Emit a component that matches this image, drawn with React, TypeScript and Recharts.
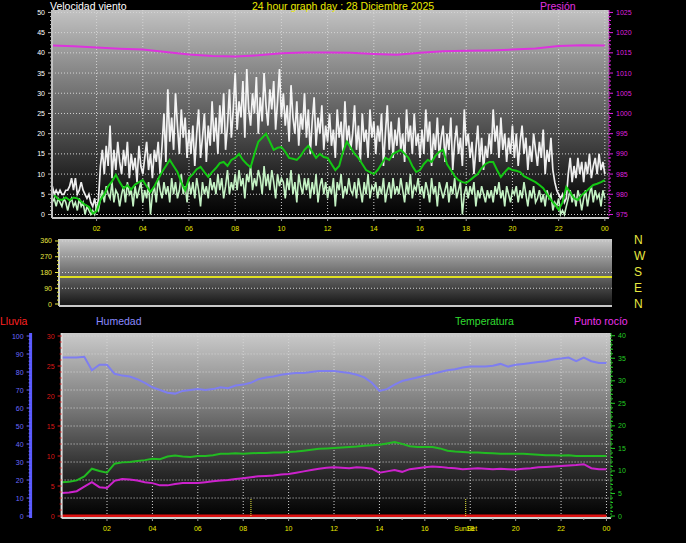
import React from "react";
import { LineChart, Line, XAxis, YAxis, CartesianGrid, ReferenceLine } from "recharts";

const FONT = '"Liberation Sans", Arial, sans-serif';

// wind gust (white), 5 min steps from 00:05
const gust = [
  7, 5, 6, 5, 6, 5, 5, 6, 6, 7, 9, 6,
  9, 5, 6, 8, 6, 5, 4, 5, 3, 2, 4, 1,
  4, 12, 16, 10, 17, 12, 22, 9, 16, 11, 18, 13,
  10, 16, 12, 18, 9, 15, 11, 14, 8, 17, 12, 10,
  14, 18, 11, 15, 9, 16, 13, 18, 10, 17, 25, 13,
  31, 18, 24, 16, 30, 22, 15, 26, 19, 24, 14, 21,
  15, 22, 12, 20, 26, 14, 19, 25, 13, 22, 17, 28,
  18, 24, 15, 27, 20, 30, 16, 22, 31, 19, 26, 35,
  21, 28, 24, 33, 19, 36, 26, 22, 30, 25, 34, 20,
  29, 23, 35, 27, 22, 31, 26, 33, 21, 28, 36, 24,
  30, 22, 27, 18, 32, 24, 20, 28, 17, 25, 21, 30,
  19, 26, 15, 23, 29, 17, 24, 20, 27, 16, 22, 18,
  25, 17, 21, 14, 26, 19, 23, 15, 28, 18, 22, 16,
  20, 27, 16, 22, 13, 25, 18, 21, 14, 26, 19, 23,
  15, 22, 18, 25, 12, 20, 27, 16, 23, 14, 21, 17,
  24, 16, 20, 13, 26, 18, 22, 15, 25, 17, 20, 14,
  21, 15, 26, 18, 23, 12, 20, 16, 24, 14, 19, 22,
  13, 20, 16, 24, 11, 18, 22, 15, 19, 12, 26, 17,
  20, 14, 18, 10, 16, 22, 13, 19, 11, 17, 14, 20,
  15, 26, 18, 22, 14, 24, 16, 20, 13, 19, 15, 22,
  14, 20, 12, 18, 22, 15, 19, 11, 17, 13, 20, 16,
  12, 18, 14, 21, 10, 16, 13, 19, 11, 8, 6, 5,
  4, 5, 3, 4, 10, 14, 8, 12, 9, 14, 10, 13,
  8, 13, 10, 15, 9, 12, 14, 10, 15, 11, 13, 10,
];

// wind speed (pale green), same steps
const wind = [
  3, 4, 2, 4, 3, 2, 4, 3, 1, 3, 4, 2,
  3, 1, 4, 2, 3, 0, 2, 1, 0, 1, 0, 2,
  1, 4, 6, 3, 7, 5, 4, 8, 3, 6, 5, 2,
  5, 7, 3, 8, 5, 6, 2, 7, 4, 6, 8, 3,
  6, 4, 8, 0, 5, 7, 3, 9, 6, 4, 8, 5,
  7, 3, 9, 5, 8, 4, 6, 10, 5, 7, 3, 8,
  5, 8, 4, 9, 6, 2, 8, 5, 7, 4, 9, 6,
  8, 5, 10, 6, 9, 4, 7, 11, 5, 8, 6, 10,
  6, 11, 7, 9, 4, 10, 8, 12, 6, 9, 7, 11,
  9, 5, 12, 7, 10, 6, 11, 8, 4, 10, 7, 9,
  8, 4, 9, 6, 11, 5, 8, 3, 10, 7, 5, 9,
  6, 9, 4, 8, 5, 10, 3, 7, 9, 5, 8, 4,
  7, 5, 9, 2, 8, 6, 10, 4, 7, 5, 9, 6,
  5, 8, 4, 9, 6, 3, 8, 5, 10, 4, 7, 6,
  8, 4, 7, 5, 9, 3, 6, 8, 4, 9, 5, 7,
  5, 9, 6, 3, 8, 5, 10, 4, 7, 6, 9, 5,
  7, 4, 8, 6, 3, 9, 5, 7, 2, 8, 6, 4,
  6, 8, 3, 7, 5, 9, 4, 6, 8, 0, 5, 7,
  4, 7, 5, 8, 2, 6, 4, 7, 5, 3, 6, 4,
  6, 3, 7, 5, 8, 4, 6, 2, 7, 5, 3, 6,
  5, 7, 3, 6, 4, 8, 5, 2, 6, 4, 7, 3,
  4, 6, 3, 5, 2, 6, 4, 5, 1, 3, 2, 4,
  0, 1, 0, 2, 4, 6, 3, 5, 2, 6, 4, 1,
  4, 6, 2, 5, 7, 3, 6, 4, 5, 2, 6, 4,
];

// 10 min average wind (dark green), from 00:10
const windAvg = [
  4.8, 3.8, 3.6, 4.2, 3.5, 4.2,
  4, 3.2, 2.4, 1.9, 0.2, 0.8,
  3.6, 5, 7, 8.2, 9.8, 8,
  6.5, 7.2, 6.2, 7.4, 8, 8.5,
  7, 5.6, 7, 8.8, 10.5, 12,
  13.5, 12, 10.5, 8, 6, 9,
  10, 11.2, 11.8, 10.5, 9.3, 10.5,
  11.5, 12.7, 13, 12, 13.5, 14,
  15, 13.5, 12.5, 11.7, 15, 18,
  19, 20, 18, 16, 16.5, 16.7,
  15.5, 14, 13.8, 13.5, 14.5, 16,
  17, 15.5, 14, 15, 14.2, 14,
  12.5, 11, 12, 15.5, 18, 16.5,
  15, 14, 12.5, 11, 10.5, 10,
  11, 12.5, 14, 13.5, 15, 15.5,
  16, 15, 14, 12, 10.5, 11,
  12.5, 13.5, 13, 14.5, 15.5, 16,
  12.5, 11, 9.5, 8.5, 8, 7.8,
  8.5, 9.3, 10, 11.5, 12.5, 13,
  13, 11, 9.3, 10.5, 11.5, 11,
  10.8, 10.5, 9.5, 9, 8.5, 8,
  7.3, 6.5, 5, 3.6, 2.5, 1.2,
  3, 6.8, 5.5, 4, 3.6, 4.8,
  5.6, 6.5, 7.3, 7.6, 8, 8.5,
];

// pressure hPa, hourly 00..24
const pressure = [
  1016.8, 1016.6, 1016.3, 1016.0, 1015.8, 1015.2, 1014.6, 1014.2, 1014.1, 1014.4,
  1014.9, 1015.1, 1015.1, 1015.0, 1014.7, 1014.5, 1015.0, 1015.4, 1015.5, 1015.6,
  1015.8, 1016.1, 1016.7, 1016.9, 1016.8,
];

// wind direction, hourly
const windDir = [
  155, 155, 155, 155, 155, 155, 155, 155, 155, 155, 155, 155, 155,
  155, 155, 155, 155, 155, 155, 155, 155, 155, 155, 155, 155,
];

// 20 min steps from 00:00
const humidity = [
  88, 88, 88, 88.5, 81, 84, 84, 79, 78, 77.5, 76, 74,
  71.5, 70, 68.5, 68, 69.5, 70, 70.5, 70, 70.5, 71.5, 71, 72.5,
  73, 74, 76, 77, 77.5, 78.5, 79, 79.5, 79.5, 80, 80.5, 80.5,
  80.5, 80, 79.5, 78.5, 77, 74, 69.5, 70.5, 73, 75, 76, 77,
  78, 79, 80, 81, 81.5, 82.5, 83, 83, 83, 83.5, 84.5, 83,
  84, 84.5, 85, 85.5, 86, 87, 87.5, 88, 86, 88, 86, 85, 85,
];
const temperature = [
  7.5, 7.6, 7.9, 8.8, 10.5, 10, 9.6, 11.6, 11.9, 12, 12.2, 12.4,
  12.7, 12.6, 13.2, 13.4, 13.2, 13.1, 13.3, 13.3, 13.5, 13.8, 13.8, 13.9,
  13.8, 13.9, 14.0, 14.0, 14.1, 14.1, 14.2, 14.3, 14.5, 14.7, 14.9, 15,
  15.1, 15.2, 15.3, 15.4, 15.6, 15.7, 15.8, 16.1, 16.4, 16.0, 15.5, 15.3,
  15.3, 15.3, 15.0, 14.5, 14.3, 14.2, 14.1, 14.1, 14.0, 13.9, 13.8, 13.8,
  13.8, 13.8, 13.7, 13.6, 13.5, 13.5, 13.4, 13.5, 13.3, 13.3, 13.3, 13.3, 13.3,
];
const dewPoint = [
  5.1, 5.2, 5.5, 6.5, 7.5, 6.4, 6.2, 7.8, 8.2, 8.1, 7.9, 7.5,
  7.3, 6.8, 6.8, 7.1, 7.3, 7.3, 7.3, 7.5, 7.7, 7.9, 8.0, 8.2,
  8.4, 8.6, 8.8, 8.9, 9.0, 9.2, 9.3, 9.6, 9.9, 10.2, 10.5, 10.7,
  10.8, 10.7, 10.6, 10.8, 10.7, 10.5, 9.6, 9.9, 10.2, 9.8, 10.4, 10.6,
  10.8, 11.0, 10.9, 10.7, 10.6, 10.4, 10.5, 10.6, 10.5, 10.4, 10.5, 10.4,
  10.3, 10.5, 10.6, 10.8, 10.9, 11.0, 11.1, 11.2, 11.3, 11.5, 10.6, 10.4, 10.4,
];
// rain mm, hourly
const rain = [0, 0, 0, 0, 0, 0, 0, 0, 0, 0, 0, 0, 0, 0, 0, 0, 0, 0, 0, 0, 0, 0, 0, 0, 0];

const sunrise = 8.34;
const sunset = 17.8;

const hourTicks = [1, 2, 3, 4, 5, 6, 7, 8, 9, 10, 11, 12, 13, 14, 15, 16, 17, 18, 19, 20, 21, 22, 23, 24];
const hourGrid = [2, 4, 6, 8, 10, 12, 14, 16, 18, 20, 22, 24];
const spdTicks = Array.from({ length: 51 }, (_, i) => i);
const spdGrid = [0, 5, 10, 15, 20, 25, 30, 35, 40, 45, 50];
const hpaTicks = Array.from({ length: 51 }, (_, i) => 975 + i);
const dirTicks = [0, 22.5, 45, 67.5, 90, 112.5, 135, 157.5, 180, 202.5, 225, 247.5, 270, 292.5, 315, 337.5, 360];
const dirGrid = [90, 180, 270, 360];
const humTicks = Array.from({ length: 51 }, (_, i) => i * 2);
const humGrid = [10, 20, 30, 40, 50, 60, 70, 80, 90, 100];
const rainTicks = Array.from({ length: 31 }, (_, i) => i);
const tempTicks = Array.from({ length: 41 }, (_, i) => i);

const gustRows = gust.map((g, i) => ({ t: (i + 1) / 12, gust: g, wind: wind[i] }));
const avgRows = windAvg.map((v, i) => ({ t: (i + 1) / 6, avg: v }));
const hpaRows = pressure.map((v, i) => ({ t: i, hpa: v }));
const dirRows = windDir.map((v, i) => ({ t: i, dir: v }));
const bottomRows = humidity.map((h, i) => ({ t: i / 3, hum: h, temp: temperature[i], dew: dewPoint[i] }));
const rainRows = rain.map((v, i) => ({ t: i, rain: v }));

function yTick(color: string, side: "left" | "right", step: number, tickColor?: string) {
  return (p: any) => {
    const { x, y, payload } = p;
    const v = payload.value;
    const major = Math.abs(v / step - Math.round(v / step)) < 1e-6;
    const ax = side === "left" ? x + 6 : x - 6;
    const len = major ? 4 : 2;
    const x2 = side === "left" ? ax - len : ax + len;
    return (
      <g>
        <line x1={ax} y1={y} x2={x2} y2={y} stroke={tickColor || color} strokeWidth={1} />
        {major && (
          <text
            x={side === "left" ? ax - 7 : ax + 7}
            y={y}
            dy={2.5}
            fill={color}
            fontSize={7}
            fontFamily={FONT}
            textAnchor={side === "left" ? "end" : "start"}
          >
            {v}
          </text>
        )}
      </g>
    );
  };
}

function xTick(p: any) {
  const { x, y, payload } = p;
  const v = payload.value;
  const even = v % 2 === 0;
  return (
    <g>
      <line x1={x} y1={y - 6} x2={x} y2={y - (even ? 3 : 4)} stroke="#a0a0a0" />
      {even && (
        <text x={x} y={y} dy={7} fill="#e8e800" fontSize={7} fontFamily={FONT} textAnchor="middle">
          {String(v % 24).padStart(2, "0")}
        </text>
      )}
    </g>
  );
}

const txt = (s: string, left: number, top: number, color: string, extra: React.CSSProperties = {}) => (
  <div
    key={s + top}
    style={{
      position: "absolute",
      left,
      top,
      color,
      fontFamily: FONT,
      fontSize: 10.5,
      lineHeight: "12px",
      whiteSpace: "nowrap",
      ...extra,
    }}
  >
    {s}
  </div>
);

export default function App() {
  return (
    <div style={{ position: "fixed", left: 0, top: 0, width: 686, height: 543, background: "#000", overflow: "hidden" }}>
      {/* wind + pressure */}
      <div style={{ position: "absolute", left: 0, top: 0 }}>
        <LineChart width={686} height={236} margin={{ top: 10, right: 37, bottom: 2, left: 8 }}>
          <defs>
            <linearGradient id="gTop" x1="0" y1="0" x2="0" y2="1">
              <stop offset="0" stopColor="#c2c2c2" />
              <stop offset="0.5" stopColor="#5e5e5e" />
              <stop offset="0.85" stopColor="#181818" />
              <stop offset="1" stopColor="#000000" />
            </linearGradient>
          </defs>
          <CartesianGrid
            yAxisId="spd"
            fill="url(#gTop)"
            fillOpacity={1}
            stroke="#d4d4d4"
            strokeDasharray="1 2"
            horizontalValues={spdGrid}
            verticalValues={hourGrid}
          />
          <XAxis
            type="number"
            dataKey="t"
            domain={[0.07, 24.18]}
            ticks={hourTicks}
            interval={0}
            height={16}
            tickSize={6}
            tickMargin={0}
            tickLine={false}
            axisLine={{ stroke: "#c8c8c8", strokeWidth: 2 }}
            tick={xTick}
            allowDataOverflow
          />
          <YAxis
            yAxisId="spd"
            domain={[-0.87, 50.6]}
            ticks={spdTicks}
            interval={0}
            width={44}
            tickSize={6}
            tickMargin={0}
            tickLine={false}
            axisLine={{ stroke: "#c0c0c0", strokeWidth: 2 }}
            tick={yTick("#ffffff", "left", 5, "#bbbbbb")}
            allowDataOverflow
          />
          <YAxis
            yAxisId="hpa"
            orientation="right"
            domain={[974.13, 1025.6]}
            ticks={hpaTicks}
            interval={0}
            width={40}
            tickSize={6}
            tickMargin={0}
            tickLine={false}
            axisLine={{ stroke: "#cc22cc", strokeWidth: 1, strokeDasharray: "2 1" }}
            tick={yTick("#dd22dd", "right", 5)}
            allowDataOverflow
          />
          <Line yAxisId="spd" data={gustRows} dataKey="gust" type="linear" stroke="#ffffff" strokeOpacity={0.92} strokeWidth={1.7} dot={false} isAnimationActive={false} />
          <Line yAxisId="spd" data={gustRows} dataKey="wind" type="linear" stroke="#c4f2c4" strokeWidth={1.6} dot={false} isAnimationActive={false} />
          <Line yAxisId="spd" data={avgRows} dataKey="avg" type="linear" stroke="#14c814" strokeWidth={2} dot={false} isAnimationActive={false} />
          <Line yAxisId="hpa" data={hpaRows} dataKey="hpa" type="linear" stroke="#dd33dd" strokeWidth={2} dot={false} isAnimationActive={false} />
        </LineChart>
      </div>

      {/* wind direction */}
      <div style={{ position: "absolute", left: 0, top: 236 }}>
        <LineChart width={686} height={72} margin={{ top: 3, right: 74, bottom: 0, left: 19 }}>
          <defs>
            <linearGradient id="gMid" x1="0" y1="0" x2="0" y2="1">
              <stop offset="0" stopColor="#c8c8c8" />
              <stop offset="1" stopColor="#141414" />
            </linearGradient>
          </defs>
          <CartesianGrid
            yAxisId="dir"
            fill="url(#gMid)"
            fillOpacity={1}
            stroke="#d4d4d4"
            strokeDasharray="1 2"
            vertical={false}
            horizontalValues={dirGrid}
          />
          <XAxis
            type="number"
            dataKey="t"
            domain={[0, 24]}
            height={2}
            tick={false}
            tickLine={false}
            axisLine={{ stroke: "#c8c8c8", strokeWidth: 2 }}
          />
          <YAxis
            yAxisId="dir"
            domain={[-11.4, 371.4]}
            ticks={dirTicks}
            interval={0}
            width={40}
            tickSize={6}
            tickMargin={0}
            tickLine={false}
            axisLine={{ stroke: "#c8c8c8", strokeWidth: 2 }}
            tick={yTick("#e8e840", "left", 90)}
            allowDataOverflow
          />
          <Line yAxisId="dir" data={dirRows} dataKey="dir" type="linear" stroke="#e0e020" strokeWidth={2} dot={false} isAnimationActive={false} />
        </LineChart>
      </div>

      {/* humidity / rain / temperature / dew point */}
      <div style={{ position: "absolute", left: 0, top: 320 }}>
        <LineChart width={686} height={223} margin={{ top: 13, right: 35, bottom: 5, left: 2.6 }}>
          <defs>
            <linearGradient id="gBot" x1="0" y1="0" x2="0" y2="1">
              <stop offset="0" stopColor="#cacaca" />
              <stop offset="0.4" stopColor="#7a7a7a" />
              <stop offset="0.75" stopColor="#2a2a2a" />
              <stop offset="1" stopColor="#000000" />
            </linearGradient>
          </defs>
          <CartesianGrid
            yAxisId="b_hum"
            fill="url(#gBot)"
            fillOpacity={1}
            stroke="#d4d4d4"
            strokeDasharray="1 2"
            horizontalValues={humGrid}
            verticalValues={hourGrid}
          />
          <XAxis
            type="number"
            dataKey="t"
            domain={[0, 24.2]}
            ticks={hourTicks}
            interval={0}
            height={20}
            tickSize={6}
            tickMargin={0}
            tickLine={false}
            axisLine={{ stroke: "#d0d0d0", strokeWidth: 2 }}
            tick={xTick}
            allowDataOverflow
          />
          <YAxis
            yAxisId="a_rain"
            domain={[-0.33, 30.5]}
            ticks={rainTicks}
            interval={0}
            width={31}
            tickSize={6}
            tickMargin={0}
            tickLine={false}
            axisLine={{ stroke: "#e0e0e0", strokeWidth: 2 }}
            tick={yTick("#dd1818", "left", 5)}
            allowDataOverflow
          />
          <YAxis
            yAxisId="b_hum"
            domain={[-1.1, 101.67]}
            ticks={humTicks}
            interval={0}
            width={28}
            tickSize={6}
            tickMargin={0}
            tickLine={false}
            axisLine={{ stroke: "#5a5aff", strokeWidth: 3 }}
            tick={yTick("#6a6aff", "left", 10)}
            allowDataOverflow
          />
          <YAxis
            yAxisId="temp"
            orientation="right"
            domain={[-0.44, 40.6]}
            ticks={tempTicks}
            interval={0}
            width={40}
            tickSize={6}
            tickMargin={0}
            tickLine={false}
            axisLine={{ stroke: "#22bb22", strokeWidth: 1, strokeDasharray: "2 1" }}
            tick={yTick("#22cc22", "right", 5)}
            allowDataOverflow
          />
          <Line yAxisId="b_hum" data={bottomRows} dataKey="hum" type="linear" stroke="#7e7ef0" strokeWidth={2} dot={false} isAnimationActive={false} />
          <Line yAxisId="temp" data={bottomRows} dataKey="temp" type="linear" stroke="#22bb22" strokeWidth={2} dot={false} isAnimationActive={false} />
          <Line yAxisId="temp" data={bottomRows} dataKey="dew" type="linear" stroke="#cc22cc" strokeWidth={2} dot={false} isAnimationActive={false} />
          <Line yAxisId="a_rain" data={rainRows} dataKey="rain" type="linear" stroke="#dd1111" strokeWidth={3} dot={false} isAnimationActive={false} />
          <ReferenceLine
            yAxisId="a_rain"
            segment={[{ x: sunrise, y: 0 }, { x: sunrise, y: 3 }]}
            stroke="#f0f040"
            strokeDasharray="1 1"
          />
          <ReferenceLine
            yAxisId="a_rain"
            segment={[{ x: sunset, y: 0 }, { x: sunset, y: 3 }]}
            stroke="#f0f040"
            strokeDasharray="1 1"
            label={{ value: "SunSet", position: "bottom", offset: 10, fill: "#e8e800", fontSize: 7, fontFamily: FONT }}
          />
        </LineChart>
      </div>

      {txt("Velocidad viento", 50, 0, "#ffffff")}
      {txt("24 hour graph day : 28 Diciembre 2025", 252, 0, "#e8e800")}
      {txt("Presión", 540, 0, "#e030e0")}
      {["N", "W", "S", "E", "N"].map((c, i) => txt(c, 634, 234 + i * 16, "#e8e840", { fontSize: 12 }))}
      {txt("Lluvia", 0, 315, "#ff2020")}
      {txt("Humedad", 96, 315, "#8a8aff")}
      {txt("Temperatura", 455, 315, "#30dd30")}
      {txt("Punto rocío", 574, 315, "#ee30ee")}
    </div>
  );
}
